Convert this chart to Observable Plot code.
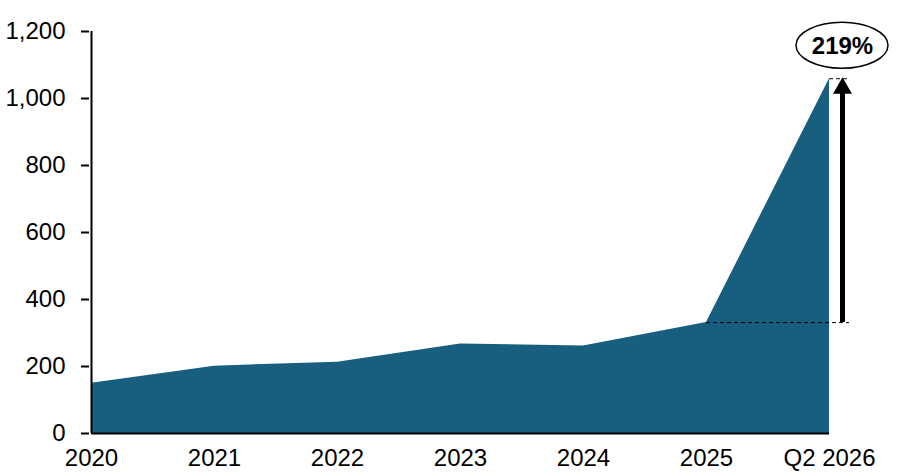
<!DOCTYPE html>
<html>
<head>
<meta charset="utf-8">
<script src="https://cdn.jsdelivr.net/npm/d3@7"></script>
<script src="https://cdn.jsdelivr.net/npm/@observablehq/plot@0.6"></script>
<style>
  html, body { margin: 0; padding: 0; background: #fff; }
  #chart svg { display: block; }
</style>
</head>
<body>
<div id="chart"></div>
<script>
const categories = ["2020", "2021", "2022", "2023", "2024", "2025", "Q2 2026"];
const values = [150, 201, 213, 267, 261, 331, 1059];
const yTicks = [0, 200, 400, 600, 800, 1000, 1200];
const changeLabel = "219%";

const data = categories.map((c, i) => ({cat: c, value: values[i]}));
const lastCat = categories[categories.length - 1];
const prevCat = categories[categories.length - 2];
const lastVal = values[values.length - 1];
const prevVal = values[values.length - 2];

const fontFamily = "'Liberation Sans', Arial, Helvetica, sans-serif";

const ellipseMark = (index, scales) => {
  const ns = "http://www.w3.org/2000/svg";
  const g = document.createElementNS(ns, "g");
  const e = document.createElementNS(ns, "ellipse");
  e.setAttribute("cx", scales.x(lastCat) + 13);
  e.setAttribute("cy", scales.y(lastVal) - 33);
  e.setAttribute("rx", 46);
  e.setAttribute("ry", 23);
  e.setAttribute("fill", "white");
  e.setAttribute("stroke", "black");
  e.setAttribute("stroke-width", 1.5);
  g.appendChild(e);
  return g;
};

const chart = Plot.plot({
  width: 903,
  height: 472,
  marginLeft: 89,
  marginRight: 72,
  marginTop: 31,
  marginBottom: 39,
  style: {fontFamily, fontSize: "24px", color: "black", background: "white"},
  x: {type: "point", domain: categories, padding: 0},
  y: {domain: [0, 1200]},
  marks: [
    Plot.areaY(data, {x: "cat", y: "value", fill: "#185e7f", curve: "linear"}),
    Plot.axisY({ticks: yTicks, tickFormat: d3.format(","), tickSize: 8, tickPadding: 16, fontSize: 24, strokeWidth: 2, label: null}),
    Plot.axisX({tickSize: 0, tickPadding: 15, fontSize: 24, label: null}),
    Plot.ruleX([categories[0]], {y1: 0, y2: 1200, stroke: "black", strokeWidth: 2}),
    Plot.ruleY([0], {x1: () => categories[0], x2: () => lastCat, stroke: "black", strokeWidth: 2}),
    Plot.ruleY([prevVal], {x1: () => prevCat, x2: () => lastCat, insetRight: -20, stroke: "black", strokeWidth: 1, strokeDasharray: "4,3"}),
    Plot.ruleY([lastVal], {x1: () => lastCat, x2: () => lastCat, insetRight: -20, stroke: "black", strokeWidth: 1, strokeDasharray: "4,3"}),
    Plot.ruleX([lastCat], {y1: lastVal, y2: prevVal, dx: 13, insetTop: 12, stroke: "black", strokeWidth: 5}),
    Plot.dot([lastCat], {x: d => d, y: () => lastVal, dx: 13, dy: 9.5, symbol: "triangle", r: 7, fill: "black", stroke: null}),
    ellipseMark,
    Plot.text([changeLabel], {x: () => lastCat, y: () => lastVal, text: d => d, dx: 13, dy: -32, fontSize: 24, fontWeight: "bold", fill: "black"})
  ]
});
document.getElementById("chart").appendChild(chart);
</script>
</body>
</html>
